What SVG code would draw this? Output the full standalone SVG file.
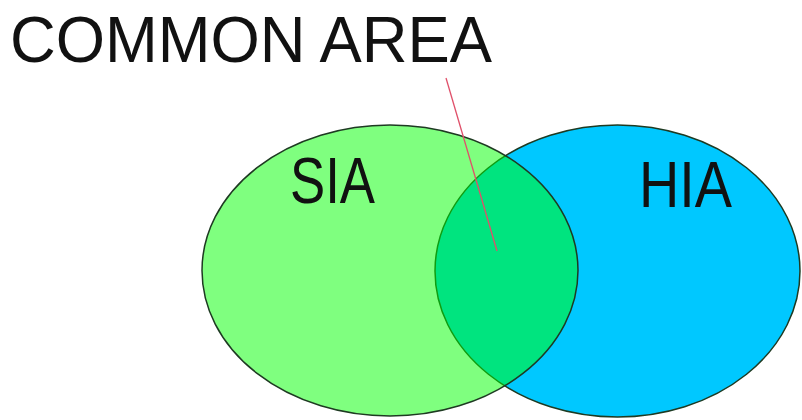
<svg xmlns="http://www.w3.org/2000/svg" width="802" height="420" viewBox="0 0 802 420">
<style>
.lbl{font-family:"Liberation Sans",Arial,sans-serif;fill:#111;}
.outline{stroke:#1e3a22;stroke-width:1.5;}
</style>
<rect width="802" height="420" fill="#ffffff"/>
<g id="hia">
<ellipse class="outline" cx="617.5" cy="271" rx="182.5" ry="146" fill="#00c8ff"/>
<text class="lbl" x="639" y="207" font-size="64" textLength="93" lengthAdjust="spacingAndGlyphs">HIA</text>
</g>
<g id="sia">
<ellipse class="outline" cx="390" cy="270.5" rx="188" ry="145.5" fill="#00ff00" fill-opacity="0.5"/>
<text class="lbl" x="290" y="203" font-size="64" textLength="85" lengthAdjust="spacingAndGlyphs">SIA</text>
</g>
<g id="common-area">
<text class="lbl" x="10" y="62" font-size="65" textLength="482" lengthAdjust="spacingAndGlyphs">COMMON AREA</text>
</g>
<g id="connectors">
<line x1="446" y1="78" x2="497" y2="251" stroke="#e0506a" stroke-width="1.3"/>
</g>
</svg>
